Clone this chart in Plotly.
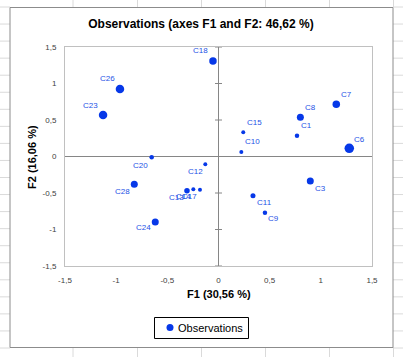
import plotly.graph_objects as go

# ---- data ----
labels = ["C1", "C3", "C6", "C7", "C8", "C9", "C10", "C11", "C12", "C13",
          "C14", "C15", "C17", "C18", "C20", "C23", "C24", "C26", "C28"]
f1 = [0.767, 0.897, 1.278, 1.151, 0.800, 0.454, 0.223, 0.337, -0.129, -0.308,
      -0.246, 0.242, -0.181, -0.054, -0.653, -1.128, -0.618, -0.963, -0.823]
f2 = [0.285, -0.336, 0.112, 0.715, 0.537, -0.770, 0.062, -0.537, -0.107, -0.468,
      -0.450, 0.331, -0.455, 1.308, -0.011, 0.568, -0.897, 0.925, -0.381]
weight = [0.21, 0.57, 0.93, 0.64, 0.57, 0.21, 0.14, 0.29, 0.14, 0.36,
          0.14, 0.14, 0.14, 0.64, 0.21, 0.79, 0.57, 0.79, 0.57]

tick_vals = [-1.5, -1, -0.5, 0, 0.5, 1, 1.5]
tick_text = ["-1,5", "-1", "-0,5", "0", "0,5", "1", "1,5"]

title_text = "Observations (axes F1 and F2: 46,62 %)"
x_title = "F1 (30,56 %)"
y_title = "F2 (16,06 %)"
series_name = "Observations"

# ---- style ----
W, H = 403, 357
PL, PR, PT, PB = 65, 372, 47, 266  # plot area in pixels
BLUE = "#0638e8"
LBLUE = "#2552e6"
FONT = "Liberation Sans, Arial, sans-serif"

# label offsets in pixels (dx right, dy down)
label_offset = {
    "C1": (10, -10), "C3": (10, 7), "C6": (10, -9), "C7": (10, -10), "C8": (10, -10),
    "C9": (9, 6), "C10": (11, -10), "C11": (12, 7), "C12": (-10, 7), "C13": (-10, 7),
    "C14": (-10, 7), "C15": (11, -10), "C17": (-10, 7), "C18": (-12, -11),
    "C20": (-11, 8), "C23": (-13, -10), "C24": (-12, 6), "C26": (-12, -10), "C28": (-12, 7),
}


def px(xp):
    return (xp - PL) / (PR - PL)


def py(yp):
    return (PB - yp) / (PB - PT)


sizes = [3 + 7 * w for w in weight]

fig = go.Figure()
fig.add_trace(go.Scatter(
    x=f1, y=f2, mode="markers", showlegend=False, name=series_name,
    marker=dict(color=BLUE, size=sizes, opacity=1, line=dict(width=0)),
    hoverinfo="text", text=labels,
))

annotations = []
for lab, xv, yv in zip(labels, f1, f2):
    dx, dy = label_offset[lab]
    annotations.append(dict(
        x=xv, y=yv, xref="x", yref="y", text=lab, showarrow=False,
        xshift=dx, yshift=-dy, font=dict(family=FONT, size=8, color=LBLUE),
    ))
annotations.append(dict(
    x=0.5, y=py(294), xref="paper", yref="paper", text="<b>" + x_title + "</b>",
    showarrow=False, font=dict(family=FONT, size=11, color="#000"),
    xanchor="center", yanchor="middle",
))
annotations.append(dict(
    x=px(32), y=py(157), xref="paper", yref="paper", text="<b>" + y_title + "</b>",
    showarrow=False, textangle=-90, font=dict(family=FONT, size=11, color="#000"),
    xanchor="center", yanchor="middle",
))
# legend text
annotations.append(dict(
    x=px(176), y=py(327.5), xref="paper", yref="paper", text=series_name,
    showarrow=False, font=dict(family=FONT, size=11, color="#000"),
    xanchor="left", yanchor="middle",
))

shapes = []
GRID = "#dadada"
# spreadsheet cell lines outside the chart area
cols = [73, 137.5, 201.5, 265.5, 329.5, 393.5]
rows = [7 + k * 17.05 for k in range(21)]
for c in cols:
    shapes.append(dict(type="line", xref="paper", yref="paper", x0=px(c), x1=px(c),
                       y0=py(0), y1=py(7), line=dict(color=GRID, width=1), layer="below"))
    shapes.append(dict(type="line", xref="paper", yref="paper", x0=px(c), x1=px(c),
                       y0=py(347), y1=py(357), line=dict(color=GRID, width=1), layer="below"))
for r in rows:
    shapes.append(dict(type="line", xref="paper", yref="paper", x0=px(0), x1=px(10),
                       y0=py(r), y1=py(r), line=dict(color=GRID, width=1), layer="below"))
    shapes.append(dict(type="line", xref="paper", yref="paper", x0=px(393), x1=px(403),
                       y0=py(r), y1=py(r), line=dict(color=GRID, width=1), layer="below"))
# chart area border
shapes.append(dict(type="rect", xref="paper", yref="paper", x0=px(10), x1=px(393),
                   y0=py(7.5), y1=py(347.5), line=dict(color="#8c8c8c", width=1),
                   fillcolor="rgba(0,0,0,0)", layer="below"))
# legend box and symbol
shapes.append(dict(type="rect", xref="paper", yref="paper", x0=px(154.5), x1=px(248.5),
                   y0=py(317.5), y1=py(338.5), line=dict(color="#000", width=1),
                   fillcolor="white", layer="above"))
shapes.append(dict(type="circle", xref="paper", yref="paper", x0=px(166.5), x1=px(173.5),
                   y0=py(324), y1=py(331), line=dict(color=BLUE, width=0),
                   fillcolor=BLUE, layer="above"))
# zero axes
AX = "#868686"
shapes.append(dict(type="line", xref="x", yref="y", x0=tick_vals[0], x1=tick_vals[-1],
                   y0=0, y1=0, line=dict(color=AX, width=1), layer="below"))
shapes.append(dict(type="line", xref="x", yref="y", x0=0, x1=0,
                   y0=tick_vals[0], y1=tick_vals[-1], line=dict(color=AX, width=1), layer="below"))
for tv in tick_vals:
    shapes.append(dict(type="line", xref="x", yref="y", xsizemode="pixel", xanchor=0,
                       x0=-3.5, x1=3.5, y0=tv, y1=tv, line=dict(color=AX, width=1),
                       layer="below"))

axis_common = dict(
    range=[-1.5, 1.5], tickmode="array", tickvals=tick_vals, ticktext=tick_text,
    showgrid=False, zeroline=False, showline=True, mirror=True,
    linecolor="#c0c0c0", linewidth=1, ticks="", automargin=False,
    tickfont=dict(family=FONT, size=8, color="#404040"),
    fixedrange=True,
)

fig.update_layout(
    width=W, height=H,
    margin=dict(l=PL, r=W - PR, t=PT, b=H - PB, pad=0, autoexpand=False),
    paper_bgcolor="white", plot_bgcolor="white",
    title=dict(text="<b>" + title_text + "</b>", x=px(201), xref="paper",
               xanchor="center", y=1 - 24 / H, yanchor="middle",
               font=dict(family=FONT, size=12, color="#000")),
    xaxis=dict(**axis_common, ticklabelstandoff=6),
    yaxis=dict(**axis_common, ticklabelstandoff=6),
    showlegend=False,
    annotations=annotations,
    shapes=shapes,
)

fig.write_html(
    "out.html",
    config={"displayModeBar": False},
    post_script="document.body.style.margin='0px';document.body.style.overflow='hidden';",
)
